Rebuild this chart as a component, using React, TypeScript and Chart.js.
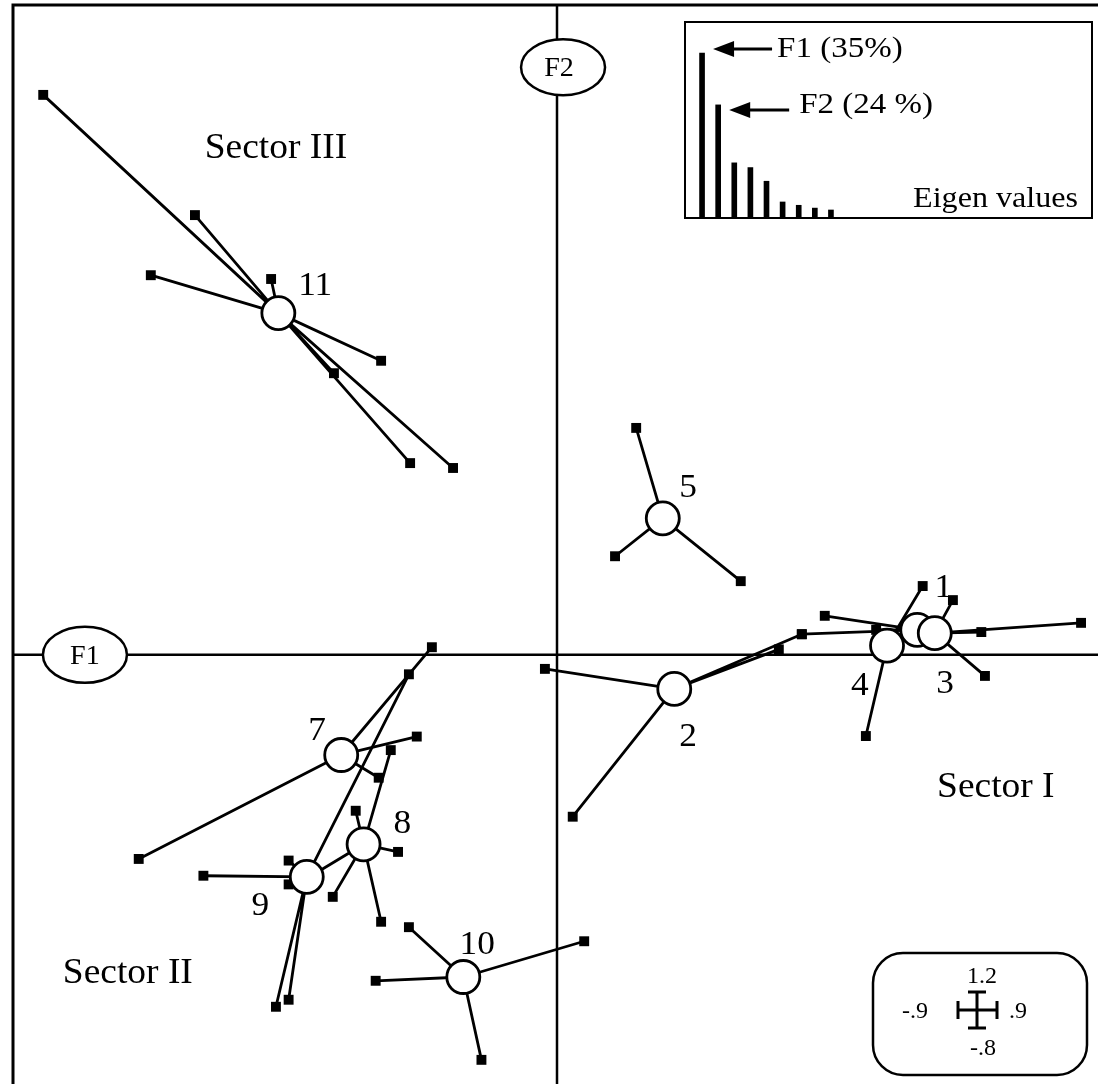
import React, { useEffect, useRef } from 'react';
import { Chart, registerables } from 'chart.js';

Chart.register(...registerables);

const FONT = '"Liberation Serif", "Times New Roman", serif';

// Factor plane ranges (F1 horizontal, F2 vertical)
const F1_RANGE = [-0.9, 0.9];
const F2_RANGE = [-0.8, 1.2];

// Group centroids (open circles)
const groupLabels = ['1', '2', '3', '4', '5', '7', '8', '9', '10', '11'];
const centroidX = [0.596, 0.194, 0.625, 0.546, 0.175, -0.357, -0.32, -0.414, -0.155, -0.461];
const centroidY = [0.046, -0.063, 0.04, 0.017, 0.252, -0.185, -0.35, -0.41, -0.595, 0.631];

// Individual observations (filled squares) of each group, [F1, F2]
const spokes1 = [[0.405, 0.038], [0.443, 0.072], [0.528, 0.046]];
const spokes2 = [[-0.02, -0.026], [0.026, -0.299], [0.367, 0.01], [0.405, 0.038]];
const spokes3 = [[0.655, 0.101], [0.702, 0.042], [0.867, 0.059], [0.708, -0.039]];
const spokes4 = [[0.605, 0.127], [0.511, -0.15]];
const spokes5 = [[0.131, 0.419], [0.096, 0.182], [0.304, 0.136]];
const spokes7 = [[-0.692, -0.377], [-0.207, 0.014], [-0.232, -0.151], [-0.295, -0.227]];
const spokes8 = [[-0.275, -0.176], [-0.333, -0.288], [-0.263, -0.364], [-0.371, -0.447], [-0.291, -0.493], [-0.405, -0.407]];
const spokes9 = [[-0.245, -0.036], [-0.444, -0.38], [-0.444, -0.424], [-0.585, -0.408], [-0.465, -0.65], [-0.444, -0.637]];
const spokes10 = [[-0.245, -0.503], [-0.3, -0.602], [-0.125, -0.748], [0.045, -0.529]];
const spokes11 = [[-0.85, 1.034], [-0.599, 0.812], [-0.672, 0.701], [-0.473, 0.694], [-0.291, 0.543], [-0.369, 0.52], [-0.243, 0.354], [-0.172, 0.345]];
const groupSpokes = [spokes1, spokes2, spokes3, spokes4, spokes5, spokes7, spokes8, spokes9, spokes10, spokes11];

// Group number label anchors (centre x, baseline y) in factor units
const labelX = [0.639, 0.217, 0.642, 0.501, 0.217, -0.397, -0.256, -0.491, -0.132, -0.4];
const labelY = [0.107, -0.168, -0.071, -0.074, 0.291, -0.157, -0.329, -0.481, -0.553, 0.665];

// Sector labels
const sectorNames = ['Sector I', 'Sector II', 'Sector III'];
const sectorX = [0.726, -0.71, -0.465];
const sectorY = [-0.263, -0.606, 0.917];

// Axis badges
const axisNames = ['F1', 'F2'];
const axisBadgeX = [-0.781, 0.01];
const axisBadgeY = [0, 1.085];

// Eigen values inset (percent of inertia)
const eigenFactors = ['F1', 'F2', 'F3', 'F4', 'F5', 'F6', 'F7', 'F8', 'F9'];
const eigenPercent = [35, 24, 11.7, 10.7, 7.8, 3.4, 2.7, 2.1, 1.7];
const eigenNotes = ['F1 (35%)', 'F2 (24 %)'];

// Scale legend tick labels: top, left, right, bottom
const scaleLegendTicks = ['1.2', '-.9', '.9', '-.8'];

function drawText(ctx: CanvasRenderingContext2D, text: string, x: number, y: number, size: number, align: CanvasTextAlign, stretch = 1.04) {
  ctx.save();
  ctx.font = `${size}px ${FONT}`;
  ctx.fillStyle = '#000';
  ctx.textAlign = align;
  ctx.textBaseline = 'alphabetic';
  ctx.translate(x, y);
  ctx.scale(stretch, 1);
  ctx.fillText(text, 0, 0);
  ctx.restore();
}

function roundRect(ctx: CanvasRenderingContext2D, x: number, y: number, w: number, h: number, r: number) {
  ctx.beginPath();
  ctx.moveTo(x + r, y);
  ctx.lineTo(x + w - r, y);
  ctx.arcTo(x + w, y, x + w, y + r, r);
  ctx.lineTo(x + w, y + h - r);
  ctx.arcTo(x + w, y + h, x + w - r, y + h, r);
  ctx.lineTo(x + r, y + h);
  ctx.arcTo(x, y + h, x, y + h - r, r);
  ctx.lineTo(x, y + r);
  ctx.arcTo(x, y, x + r, y, r);
  ctx.closePath();
}

const decorPlugin = {
  id: 'decor',
  beforeDatasetsDraw(chart: any) {
    const { ctx, chartArea: a, scales } = chart;
    const xs = scales.x;
    const ys = scales.y;
    ctx.save();
    ctx.strokeStyle = '#000';
    ctx.lineWidth = 3;
    ctx.strokeRect(a.left, a.top, a.right - a.left, a.bottom - a.top);
    ctx.lineWidth = 2.5;
    const y0 = ys.getPixelForValue(0);
    const x0 = xs.getPixelForValue(0);
    ctx.beginPath();
    ctx.moveTo(a.left, y0);
    ctx.lineTo(a.right, y0);
    ctx.moveTo(x0, a.top);
    ctx.lineTo(x0, a.bottom);
    ctx.stroke();
    ctx.restore();
  },
  afterDatasetsDraw(chart: any) {
    const { ctx, scales } = chart;
    const xs = scales.x;
    const ys = scales.y;
    ctx.save();
    // axis badges
    axisNames.forEach((n, i) => {
      const cx = xs.getPixelForValue(axisBadgeX[i]);
      const cy = ys.getPixelForValue(axisBadgeY[i]);
      ctx.beginPath();
      ctx.ellipse(cx, cy, 42, 28, 0, 0, Math.PI * 2);
      ctx.fillStyle = '#fff';
      ctx.fill();
      ctx.lineWidth = 2.5;
      ctx.strokeStyle = '#000';
      ctx.stroke();
      drawText(ctx, n, cx - (i === 1 ? 4 : 0), cy + 9, 27, 'center');
    });
    // group labels
    groupLabels.forEach((g, i) => {
      drawText(ctx, g, xs.getPixelForValue(labelX[i]), ys.getPixelForValue(labelY[i]), 34, 'center');
    });
    // sectors
    sectorNames.forEach((s, i) => {
      drawText(ctx, s, xs.getPixelForValue(sectorX[i]), ys.getPixelForValue(sectorY[i]), 36, 'center');
    });
    // scale legend box
    ctx.lineWidth = 2.5;
    ctx.strokeStyle = '#000';
    roundRect(ctx, 873, 953, 214, 122, 30);
    ctx.stroke();
    const cx = 977, cy = 1010;
    ctx.lineWidth = 3;
    ctx.beginPath();
    ctx.moveTo(958, cy); ctx.lineTo(997, cy);
    ctx.moveTo(cx, 992); ctx.lineTo(cx, 1028);
    ctx.moveTo(968, 992); ctx.lineTo(986, 992);
    ctx.moveTo(968, 1028); ctx.lineTo(986, 1028);
    ctx.moveTo(958, 1001); ctx.lineTo(958, 1019);
    ctx.moveTo(997, 1001); ctx.lineTo(997, 1019);
    ctx.stroke();
    drawText(ctx, scaleLegendTicks[0], 982, 983, 24, 'center', 1);
    drawText(ctx, scaleLegendTicks[1], 915, 1018, 24, 'center', 1);
    drawText(ctx, scaleLegendTicks[2], 1018, 1018, 24, 'center', 1);
    drawText(ctx, scaleLegendTicks[3], 983, 1055, 24, 'center', 1);
    ctx.restore();
  },
};

const eigenPlugin = {
  id: 'eigenDecor',
  afterDraw(chart: any) {
    const { ctx, scales } = chart;
    const xs = scales.x;
    const ys = scales.y;
    ctx.save();
    ctx.strokeStyle = '#000';
    ctx.lineWidth = 2;
    ctx.strokeRect(1, 1, 407, 196);
    const dy = [-4, 5];
    const textDy = [8, 3];
    const lens = [59, 60];
    const gaps = [5, 10];
    eigenNotes.forEach((t, i) => {
      const tipX = xs.getPixelForValue(i) + 11;
      const tipY = ys.getPixelForValue(eigenPercent[i]) + dy[i];
      ctx.fillStyle = '#000';
      ctx.lineWidth = 3;
      ctx.beginPath();
      ctx.moveTo(tipX + 15, tipY);
      ctx.lineTo(tipX + lens[i], tipY);
      ctx.stroke();
      ctx.beginPath();
      ctx.moveTo(tipX, tipY);
      ctx.lineTo(tipX + 21, tipY - 8);
      ctx.lineTo(tipX + 21, tipY + 8);
      ctx.closePath();
      ctx.fill();
      drawText(ctx, t, tipX + lens[i] + gaps[i], tipY + textDy[i], 30, 'left', 1.1);
    });
    drawText(ctx, 'Eigen values', 394, 186, 30, 'right', 1.07);
    ctx.restore();
  },
};

export default function App() {
  const mainRef = useRef<HTMLCanvasElement>(null);
  const eigRef = useRef<HTMLCanvasElement>(null);

  useEffect(() => {
    const spokeSets = groupSpokes.map((sp, g) => ({
      label: 'group ' + groupLabels[g],
      data: sp.flatMap(([x, y]) => [
        { x: centroidX[g], y: centroidY[g] },
        { x, y },
      ]),
      showLine: true,
      borderColor: '#000',
      borderWidth: 2.8,
      borderJoinStyle: 'round' as const,
      borderCapStyle: 'round' as const,
      pointStyle: 'rect' as const,
      pointRadius: (c: any) => (c.dataIndex % 2 === 1 ? 7 : 0),
      pointBackgroundColor: '#000',
      pointBorderWidth: 0,
      order: 1,
    }));

    const main = new Chart(mainRef.current!, {
      type: 'scatter',
      data: {
        datasets: [
          {
            label: 'centroids',
            data: centroidX.map((x, i) => ({ x, y: centroidY[i] })),
            showLine: false,
            pointStyle: 'circle',
            pointRadius: 16.5,
            pointBackgroundColor: '#fff',
            pointBorderColor: '#000',
            pointBorderWidth: 2.8,
            order: 0,
          } as any,
          ...spokeSets,
        ],
      },
      options: {
        responsive: false,
        animation: false,
        devicePixelRatio: 1,
        events: [],
        layout: { autoPadding: false, padding: { left: 13, top: 5, right: 9, bottom: 12 } },
        plugins: { legend: { display: false }, tooltip: { enabled: false } },
        scales: {
          x: { type: 'linear', min: F1_RANGE[0], max: F1_RANGE[1], display: false },
          y: { type: 'linear', min: F2_RANGE[0], max: F2_RANGE[1], display: false },
        },
      },
      plugins: [decorPlugin],
    });

    const eig = new Chart(eigRef.current!, {
      type: 'bar',
      data: {
        labels: eigenFactors,
        datasets: [
          {
            label: 'Eigen values',
            data: eigenPercent,
            backgroundColor: '#000',
            borderWidth: 0,
            barThickness: 5,
          },
        ],
      },
      options: {
        responsive: false,
        animation: false,
        devicePixelRatio: 1,
        events: [],
        layout: { autoPadding: false, padding: { left: 10, top: 0, right: 255, bottom: 2 } },
        plugins: { legend: { display: false }, tooltip: { enabled: false } },
        scales: {
          x: { display: false },
          y: { display: false, min: 0, max: 41.8 },
        },
      },
      plugins: [eigenPlugin],
    });

    return () => {
      main.destroy();
      eig.destroy();
    };
  }, []);

  return (
    <div style={{ position: 'fixed', left: 0, top: 0, width: 1098, height: 1084, overflow: 'hidden', background: '#fff' }}>
      <canvas ref={mainRef} width={1110} height={1100} style={{ position: 'absolute', left: 0, top: 0 }} />
      <canvas ref={eigRef} width={410} height={199} style={{ position: 'absolute', left: 684, top: 21 }} />
    </div>
  );
}
